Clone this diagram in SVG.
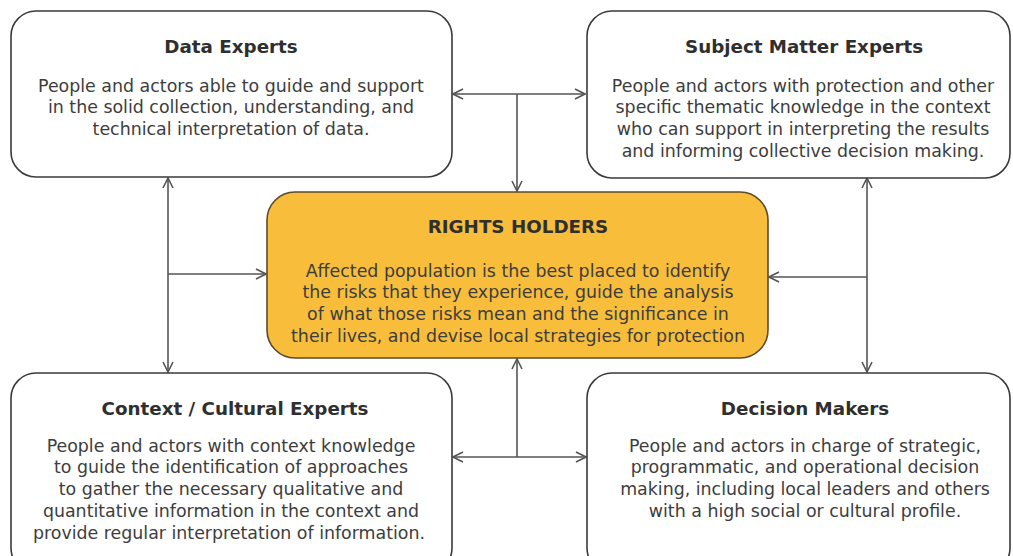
<svg xmlns="http://www.w3.org/2000/svg" width="1013" height="556" viewBox="0 0 1013 556">
<style>
.box{fill:#ffffff;stroke:#3a3a3a;stroke-width:1.6}
.core{fill:#F8BD3B;stroke:#5b4a2c;stroke-width:1.6}
.title{font-family:"DejaVu Sans","Noto Sans",sans-serif;font-weight:bold;font-size:18.3px;fill:#2f2f2f;text-anchor:middle}
.body{font-family:"DejaVu Sans","Noto Sans",sans-serif;font-size:17.4px;fill:#3d3d3d;text-anchor:middle}
.conn{fill:none;stroke:#555555;stroke-width:1.6}
</style>
<defs>
<marker id="arr" viewBox="0 0 12 12" refX="11" refY="6" markerWidth="12" markerHeight="12" markerUnits="userSpaceOnUse" orient="auto-start-reverse">
<path d="M1,1 L11,6 L1,11" fill="none" stroke="#555555" stroke-width="1.6"/>
</marker>
</defs>
<rect width="1013" height="556" fill="#ffffff"/>
<g id="connectors">
<line class="conn" x1="453" y1="94" x2="585" y2="94" marker-start="url(#arr)" marker-end="url(#arr)"/>
<line class="conn" x1="517" y1="94" x2="517" y2="191" marker-end="url(#arr)"/>
<line class="conn" x1="168" y1="178" x2="168" y2="372" marker-start="url(#arr)" marker-end="url(#arr)"/>
<line class="conn" x1="168" y1="274" x2="266" y2="274" marker-end="url(#arr)"/>
<line class="conn" x1="867" y1="178" x2="867" y2="372" marker-start="url(#arr)" marker-end="url(#arr)"/>
<line class="conn" x1="867" y1="277" x2="769" y2="277" marker-end="url(#arr)"/>
<line class="conn" x1="453" y1="457" x2="586" y2="457" marker-start="url(#arr)" marker-end="url(#arr)"/>
<line class="conn" x1="517" y1="457" x2="517" y2="359" marker-end="url(#arr)"/>
</g>
<g id="data-experts">
<rect class="box" x="11" y="11" width="441" height="166" rx="25"/>
<text class="title" x="231" y="53">Data Experts</text>
<text class="body" x="231" y="92">People and actors able to guide and support</text>
<text class="body" x="231" y="113">in the solid collection, understanding, and</text>
<text class="body" x="231" y="135">technical interpretation of data.</text>
</g>
<g id="subject-matter-experts">
<rect class="box" x="587" y="11" width="423" height="167" rx="25"/>
<text class="title" x="804" y="53">Subject Matter Experts</text>
<text class="body" x="803" y="92">People and actors with protection and other</text>
<text class="body" x="803" y="113">specific thematic knowledge in the context</text>
<text class="body" x="803" y="135">who can support in interpreting the results</text>
<text class="body" x="803" y="157">and informing collective decision making.</text>
</g>
<g id="rights-holders">
<rect class="core" x="267" y="192" width="501" height="166" rx="28"/>
<text class="title" x="518" y="233">RIGHTS HOLDERS</text>
<text class="body" x="518" y="277">Affected population is the best placed to identify</text>
<text class="body" x="518" y="298">the risks that they experience, guide the analysis</text>
<text class="body" x="518" y="320">of what those risks mean and the significance in</text>
<text class="body" x="518" y="342">their lives, and devise local strategies for protection</text>
</g>
<g id="context-cultural-experts">
<rect class="box" x="11" y="373" width="441" height="200" rx="25"/>
<text class="title" x="235" y="415">Context / Cultural Experts</text>
<text class="body" x="231" y="452">People and actors with context knowledge</text>
<text class="body" x="231" y="473">to guide the identification of approaches</text>
<text class="body" x="231" y="495">to gather the necessary qualitative and</text>
<text class="body" x="231" y="517">quantitative information in the context and</text>
<text class="body" x="229" y="539">provide regular interpretation of information.</text>
</g>
<g id="decision-makers">
<rect class="box" x="587" y="373" width="423" height="200" rx="25"/>
<text class="title" x="805" y="415">Decision Makers</text>
<text class="body" x="805" y="452">People and actors in charge of strategic,</text>
<text class="body" x="805" y="473">programmatic, and operational decision</text>
<text class="body" x="805" y="495">making, including local leaders and others</text>
<text class="body" x="805" y="517">with a high social or cultural profile.</text>
</g>
</svg>
